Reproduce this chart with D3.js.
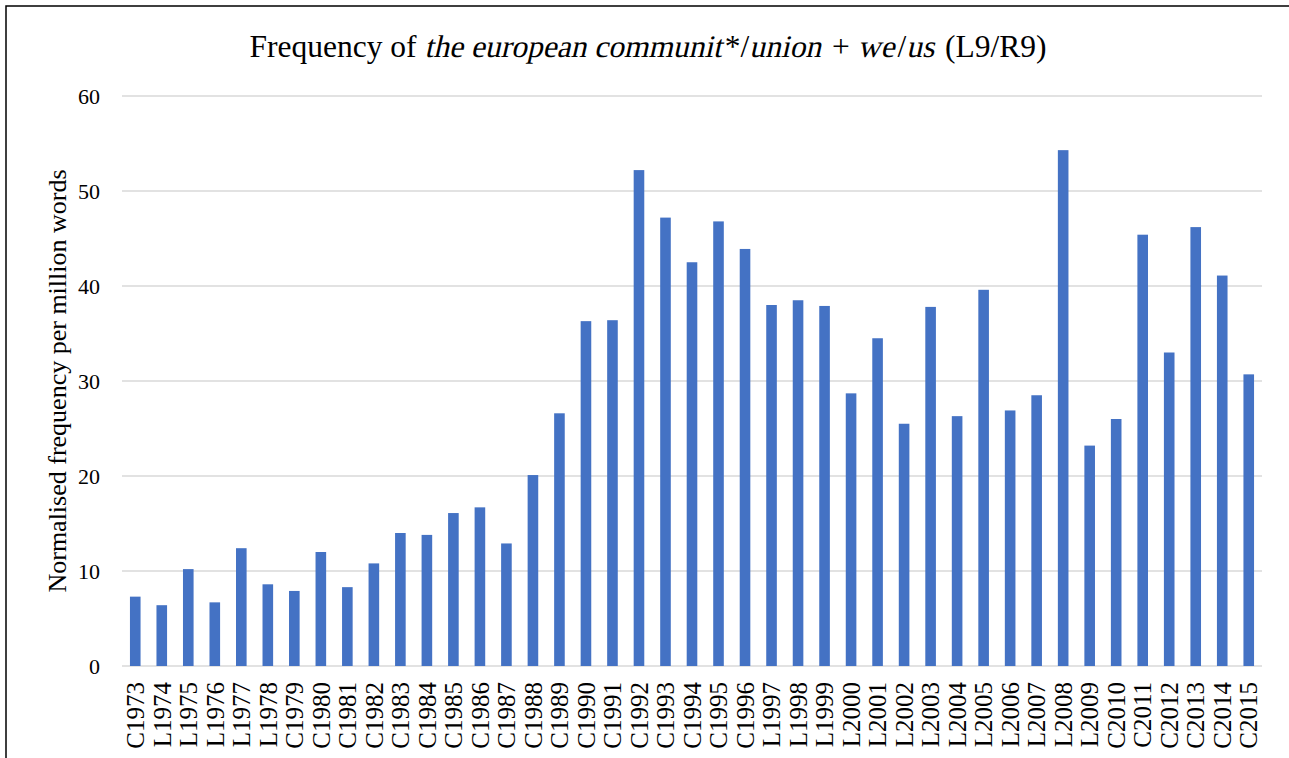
<!DOCTYPE html>
<html>
<head>
<meta charset="utf-8">
<script src="https://cdn.jsdelivr.net/npm/d3@7"></script>
<style>
  body { margin: 0; background: #fff; }
  svg { display: block; }
  svg text { font-family: "Liberation Serif", "DejaVu Serif", serif; }
</style>
</head>
<body>
<svg id="chart" width="1289" height="758"></svg>
<script>
// categories (corpus + year)
const categories = [
  "C1973","L1974","L1975","L1976","L1977","L1978","C1979","C1980","C1981","C1982",
  "C1983","C1984","C1985","C1986","C1987","C1988","C1989","C1990","C1991","C1992",
  "C1993","C1994","C1995","C1996","L1997","L1998","L1999","L2000","L2001","L2002",
  "L2003","L2004","L2005","L2006","L2007","L2008","L2009","C2010","C2011","C2012",
  "C2013","C2014","C2015"
];

// normalised frequency per million words
const values = [
  7.3, 6.4, 10.2, 6.7, 12.4, 8.6, 7.9, 12.0, 8.3, 10.8,
  14.0, 13.8, 16.1, 16.7, 12.9, 20.1, 26.6, 36.3, 36.4, 52.2,
  47.2, 42.5, 46.8, 43.9, 38.0, 38.5, 37.9, 28.7, 34.5, 25.5,
  37.8, 26.3, 39.6, 26.9, 28.5, 54.3, 23.2, 26.0, 45.4, 33.0,
  46.2, 41.1, 30.7
];

const yTicks = [0, 10, 20, 30, 40, 50, 60];

// title pieces: [text, italic]
const titleParts = [
  ["Frequency of ", false],
  ["the european communit", true],
  ["*/", false],
  ["union", true],
  [" + ", false],
  ["we", true],
  ["/", false],
  ["us", true],
  [" (L9/R9)", false]
];

const margin = {top: 96, right: 27, bottom: 92, left: 122};
const W = 1289, H = 758;
const width = W - margin.left - margin.right;
const height = H - margin.top - margin.bottom;

const svg = d3.select("#chart");

// outer frame
svg.append("rect")
    .attr("x", 6).attr("y", 6)
    .attr("width", W + 10).attr("height", H + 10)
    .attr("fill", "none")
    .attr("stroke", "#000")
    .attr("stroke-width", 1.5);

// title: regular serif pieces, italic ones slanted with skewX
const titleG = svg.append("g");
let cursor = 0;
titleParts.forEach(function(p) {
    const t = titleG.append("text")
        .style("font-size", "31.5px")
        .attr("fill", "#000")
        .text(p[0].replace(/ /g, "\u00A0"));
    const w = t.node().getComputedTextLength();
    t.attr("transform", "translate(" + cursor + ",0)" + (p[1] ? " skewX(-13)" : ""));
    cursor += w + (p[1] ? 3 : 0);
});
titleG.attr("transform", "translate(" + (648 - cursor / 2) + ",57)");

const g = svg.append("g")
    .attr("transform", "translate(" + margin.left + "," + margin.top + ")");

const x = d3.scaleBand()
    .domain(categories)
    .range([0, width])
    .paddingInner(0.6)
    .paddingOuter(0.3);

const y = d3.scaleLinear()
    .domain([0, 60])
    .range([height, 0]);

// gridlines
g.append("g")
    .selectAll("line")
    .data(yTicks)
    .enter()
    .append("line")
    .attr("x1", 0).attr("x2", width)
    .attr("y1", function(d) { return y(d); })
    .attr("y2", function(d) { return y(d); })
    .attr("stroke", "#d9d9d9")
    .attr("stroke-width", 1.3);

// y axis labels
const yAxis = g.append("g")
    .call(d3.axisLeft(y).tickValues(yTicks).tickSize(0).tickPadding(22));
yAxis.select(".domain").remove();
yAxis.selectAll("text")
    .style("font-family", "'Liberation Serif', 'DejaVu Serif', serif")
    .style("font-size", "22px")
    .attr("fill", "#000");

// bars
g.selectAll("rect.bar")
    .data(values)
    .enter()
    .append("rect")
    .attr("class", "bar")
    .attr("x", function(d, i) { return x(categories[i]); })
    .attr("y", function(d) { return y(d); })
    .attr("width", x.bandwidth())
    .attr("height", function(d) { return height - y(d); })
    .attr("fill", "#4472c4");

// x axis labels (rotated)
const xAxis = g.append("g")
    .attr("transform", "translate(0," + height + ")")
    .call(d3.axisBottom(x).tickSize(0).tickPadding(0));
xAxis.select(".domain").remove();
xAxis.selectAll("text")
    .style("font-family", "'Liberation Serif', 'DejaVu Serif', serif")
    .style("font-size", "25px")
    .attr("fill", "#000")
    .attr("text-anchor", "end")
    .attr("transform", "rotate(-90)")
    .attr("x", -16)
    .attr("y", 0)
    .attr("dy", "0.35em");

// y axis title
svg.append("text")
    .attr("transform", "translate(66,381) rotate(-90)")
    .attr("text-anchor", "middle")
    .style("font-size", "26px")
    .attr("fill", "#000")
    .text("Normalised frequency per million words");
</script>
</body>
</html>
